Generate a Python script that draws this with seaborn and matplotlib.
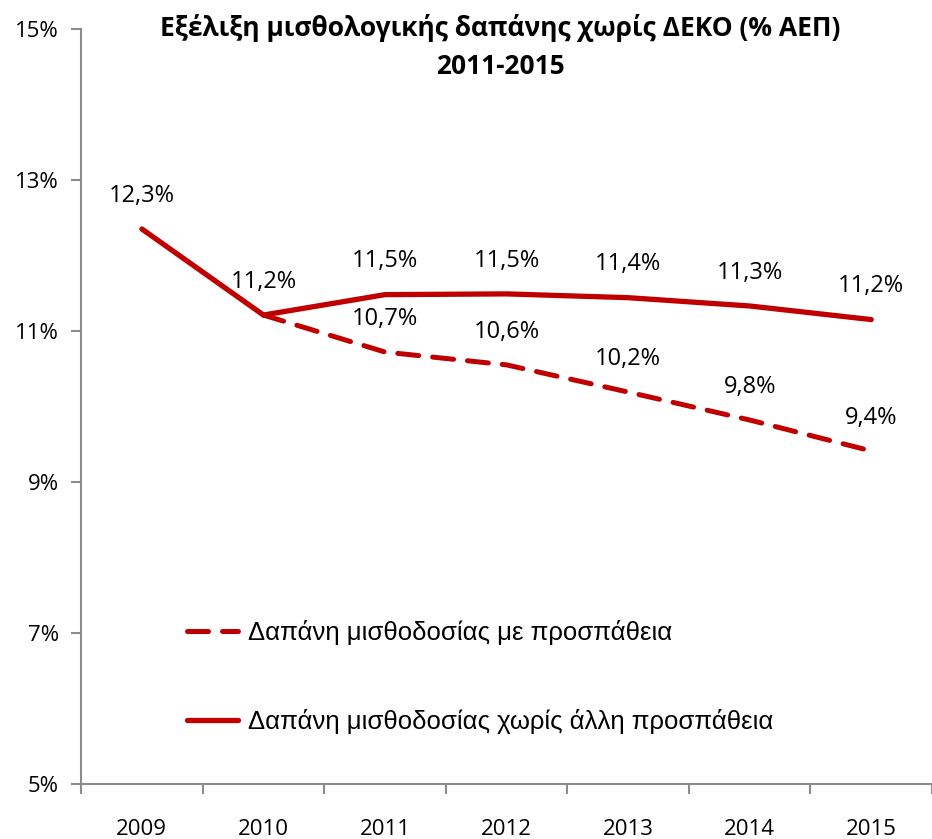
import pandas as pd
import matplotlib.pyplot as plt
import seaborn as sns
from matplotlib.lines import Line2D
from matplotlib.ticker import FixedLocator

# Data
years = ['2009', '2010', '2011', '2012', '2013', '2014', '2015']
no_effort = [12.35, 11.21, 11.48, 11.49, 11.44, 11.33, 11.15]
no_effort_labels = ['12,3%', '11,2%', '11,5%', '11,5%', '11,4%', '11,3%', '11,2%']
with_effort_years = ['2010', '2011', '2012', '2013', '2014', '2015']
with_effort = [11.21, 10.72, 10.55, 10.19, 9.82, 9.41]
with_effort_labels = ['', '10,7%', '10,6%', '10,2%', '9,8%', '9,4%']

name_effort = 'Δαπάνη μισθοδοσίας με προσπάθεια'
name_no_effort = 'Δαπάνη μισθοδοσίας χωρίς άλλη προσπάθεια'

pos = {y: i for i, y in enumerate(years)}
df_a = pd.DataFrame({'x': [pos[y] for y in years], 'v': no_effort})
df_b = pd.DataFrame({'x': [pos[y] for y in with_effort_years], 'v': with_effort})

sns.set_style('white')
plt.rcParams['font.family'] = ['Open Sans', 'DejaVu Sans']

red = '#C00000'
gray = '#8C8C8C'

fig = plt.figure(figsize=(9.32, 8.39), dpi=100)
ax = fig.add_axes([0.087, 0.0656, 0.913, 0.9])

sns.lineplot(data=df_a, x='x', y='v', ax=ax, color=red, linewidth=3.8,
             solid_capstyle='round', solid_joinstyle='miter')
sns.lineplot(data=df_b, x='x', y='v', ax=ax, color=red, linewidth=3.6,
             linestyle=(0, (4.2, 2.8)), dash_capstyle='round')

for x, v, t in zip(df_a['x'], df_a['v'], no_effort_labels):
    ax.annotate(t, (x, v), xytext=(0, 24), textcoords='offset points',
                ha='center', va='center', fontsize=17, color='black')
for x, v, t in zip(df_b['x'], df_b['v'], with_effort_labels):
    if t:
        ax.annotate(t, (x, v), xytext=(0, 24), textcoords='offset points',
                    ha='center', va='center', fontsize=17, color='black')

ax.set_xlim(-0.5, len(years) - 0.5)
ax.set_ylim(5, 15)
ax.set_xticks(range(len(years)))
ax.set_xticklabels(years)
ax.xaxis.set_minor_locator(FixedLocator([i - 0.5 for i in range(len(years) + 1)]))
ax.set_yticks([5, 7, 9, 11, 13, 15])
ax.set_yticklabels(['5%', '7%', '9%', '11%', '13%', '15%'])
ax.tick_params(axis='x', which='major', length=0, pad=25, labelsize=16, labelcolor='black')
ax.tick_params(axis='x', which='minor', length=7, width=1.5, color=gray, direction='out', bottom=True)
ax.tick_params(axis='y', length=7, width=1.5, color=gray, direction='out', left=True, pad=9,
               labelsize=16, labelcolor='black')
ax.set_xlabel('')
ax.set_ylabel('')

sns.despine(ax=ax)
for s in ['left', 'bottom']:
    ax.spines[s].set_color(gray)
    ax.spines[s].set_linewidth(1.5)

fig.text(0.537, 0.944, 'Εξέλιξη μισθολογικής δαπάνης χωρίς ΔΕΚΟ (% ΑΕΠ)\n2011-2015',
         ha='center', va='center', fontsize=19, fontweight='bold', linespacing=1.5,
         color='black')

handles = [Line2D([0], [0], color=red, lw=3.6, linestyle=(0, (4.2, 2.8)), dash_capstyle='round'),
           Line2D([0], [0], color=red, lw=3.8, solid_capstyle='round')]
leg = ax.legend(handles, [name_effort, name_no_effort], loc='upper left',
                bbox_to_anchor=(0.097, 0.248), frameon=False, handlelength=2.0,
                handletextpad=0.4, labelspacing=2.5,
                prop={'family': ['Liberation Sans', 'DejaVu Sans'], 'size': 18.5})
for t in leg.get_texts():
    t.set_color('black')

fig.savefig('out.png', dpi=100)
